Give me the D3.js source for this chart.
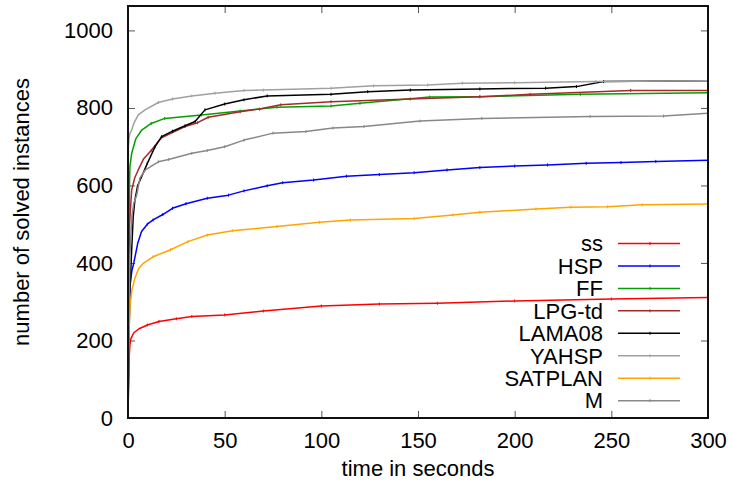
<!DOCTYPE html>
<html>
<head>
<meta charset="utf-8">
<script src="https://cdn.jsdelivr.net/npm/d3@7"></script>
<style>
  body { margin: 0; background: #fff; }
  text { font-family: "Liberation Sans", Arial, sans-serif; fill: #000; }
</style>
</head>
<body>
<svg id="chart" width="733" height="486"></svg>
<script>
// time (s) vs number of solved instances
var ss = [[0,0],[0.2,60],[0.5,150],[1,190],[1.5,205],[3,220],[6,231],[10,240],[16,249],[25,256],[33,262],[50,266],[70,276],[100,289],[130,294],[160,296],[200,302],[250,307],[300,311]];
var hsp = [[0,0],[0.3,150],[0.7,280],[1,340],[2,380],[3,400],[5,450],[7,481],[10,500],[13,511],[18,525],[23,541],[30,553],[41,567],[52,575],[60,586],[72,599],[80,607],[96,614],[113,624],[130,628],[148,633],[165,640],[182,646],[200,650],[217,653],[237,657],[255,659],[273,662],[300,665]];
var ff = [[0,0],[0.2,300],[0.5,500],[0.8,610],[1,649],[1.9,683],[4,720],[7.1,743],[12,760],[19,773],[38,782],[58,792],[77,802],[105,805],[120,812],[156,828],[182,829],[234,835],[300,839]];
var lpg = [[0,0],[0.3,300],[0.8,500],[1.9,588],[3.5,620],[5.3,640],[8,668],[12,690],[17,722],[29.5,752],[36,762],[41.5,776],[58,790],[68,797],[79,808],[105,816],[146,823],[182,829],[208,835],[260,845],[300,845]];
var lama = [[0,0],[0.5,200],[1,330],[1.9,434],[2.7,520],[3.6,563],[5,600],[7.1,623],[10,657],[14,700],[17.4,726],[23,740],[29.5,754],[34.7,765],[39.8,795],[50,810],[60,821],[72,831],[105,835],[124,842],[146,846],[182,849],[216,851],[232,855],[246,868],[300,870]];
var yahsp = [[0,0],[0.05,400],[0.1,600],[0.2,700],[0.5,720],[1,735],[1.9,743],[3,760],[5.3,782],[8.8,795],[15.7,814],[23,823],[33,831],[45,838],[60,845],[70,846],[105,851],[127,857],[155,859],[173,864],[200,865],[242,868],[300,870]];
var satplan = [[0,0],[0.3,150],[0.6,240],[1,287],[2,330],[3.6,361],[5.5,385],[7.9,399],[13,416],[22,434],[31,455],[41,472],[54,483],[77,494],[99,505],[115,511],[148,515],[168,524],[182,531],[211,539],[229,544],[248,545],[266,550],[300,552]];
var m = [[0,0],[0.3,200],[1,420],[2,520],[3,555],[4.5,575],[6.2,620],[9,640],[15.7,661],[21,667],[33,683],[41,690],[50,700],[60,717],[75,735],[92,739],[106,748],[122,752],[151,766],[183,773],[239,778],[277,779],[300,786]];

var names = ["ss", "HSP", "FF", "LPG-td", "LAMA08", "YAHSP", "SATPLAN", "M"];
var series = [ss, hsp, ff, lpg, lama, yahsp, satplan, m];
var colors = ["#ff0000", "#0000ff", "#00a000", "#a52a2a", "#000000", "#a0a0a0", "#ffa500", "#888888"];

var xTicks = [0, 50, 100, 150, 200, 250, 300];
var yTicks = [0, 200, 400, 600, 800, 1000];

(function () {
  var svg = d3.select("#chart");
  var pLeft = 128, pRight = 708, pTop = 6, pBottom = 418;
  var fontSize = "22px";

  var x = d3.scaleLinear().domain([0, 300]).range([pLeft, pRight]);
  var y = d3.scaleLinear().domain([0, 1063]).range([pBottom, pTop]);

  // ticks, inward on all four sides
  function styleAxis(g) {
    g.select(".domain").remove();
    g.selectAll(".tick line").attr("stroke", "#555").attr("stroke-width", 1);
    g.selectAll(".tick text")
      .style("font-size", fontSize)
      .style("font-family", "Liberation Sans, Arial, sans-serif")
      .attr("fill", "#000");
  }

  svg.append("g").attr("transform", "translate(0," + pBottom + ")")
    .call(d3.axisBottom(x).tickValues(xTicks).tickSize(-7).tickPadding(14).tickFormat(d3.format("d")))
    .call(styleAxis);
  svg.append("g").attr("transform", "translate(0," + pTop + ")")
    .call(d3.axisTop(x).tickValues(xTicks).tickSize(-7).tickFormat(""))
    .call(styleAxis);
  svg.append("g").attr("transform", "translate(" + pLeft + ",0)")
    .call(d3.axisLeft(y).tickValues(yTicks).tickSize(-7).tickPadding(15).tickFormat(d3.format("d")))
    .call(styleAxis);
  svg.append("g").attr("transform", "translate(" + pRight + ",0)")
    .call(d3.axisRight(y).tickValues(yTicks).tickSize(-7).tickFormat(""))
    .call(styleAxis);

  // curves
  var line = d3.line().x(function (d) { return x(d[0]); }).y(function (d) { return y(d[1]); });
  var plot = svg.append("g");
  series.forEach(function (data, i) {
    plot.append("path")
      .datum(data)
      .attr("d", line)
      .attr("fill", "none")
      .attr("stroke", colors[i])
      .attr("stroke-width", 1.5)
      .attr("stroke-linejoin", "round");
    plot.selectAll(null)
      .data(data.filter(function (d) { return d[0] >= 10; }))
      .enter().append("path")
      .attr("d", function (d) { return "M" + x(d[0]) + "," + (y(d[1]) - 1.5) + "v3"; })
      .attr("stroke", colors[i])
      .attr("stroke-width", 1);
  });

  // frame
  svg.append("path")
    .attr("d", "M" + pLeft + "," + pTop + "H" + pRight + "V" + pBottom + "H" + pLeft + "Z")
    .attr("fill", "none")
    .attr("stroke", "#111")
    .attr("stroke-width", 2);

  // legend
  var legend = svg.append("g");
  names.forEach(function (name, i) {
    var cy = 243.5 + i * 22.45;
    legend.append("text")
      .attr("x", 603).attr("y", cy + 7.8)
      .attr("text-anchor", "end")
      .style("font-size", fontSize)
      .text(name);
    legend.append("line")
      .attr("x1", 618).attr("x2", 680).attr("y1", cy).attr("y2", cy)
      .attr("stroke", colors[i]).attr("stroke-width", 1.5);
    legend.append("line")
      .attr("x1", 650).attr("x2", 650).attr("y1", cy - 1.5).attr("y2", cy + 1.5)
      .attr("stroke", colors[i]).attr("stroke-width", 1);
  });

  // axis titles
  svg.append("text")
    .attr("x", (pLeft + pRight) / 2).attr("y", 476)
    .attr("text-anchor", "middle")
    .style("font-size", fontSize)
    .text("time in seconds");
  svg.append("text")
    .attr("transform", "translate(29," + (pTop + pBottom) / 2 + ") rotate(-90)")
    .attr("text-anchor", "middle")
    .style("font-size", fontSize)
    .text("number of solved instances");
})();
</script>
</body>
</html>
